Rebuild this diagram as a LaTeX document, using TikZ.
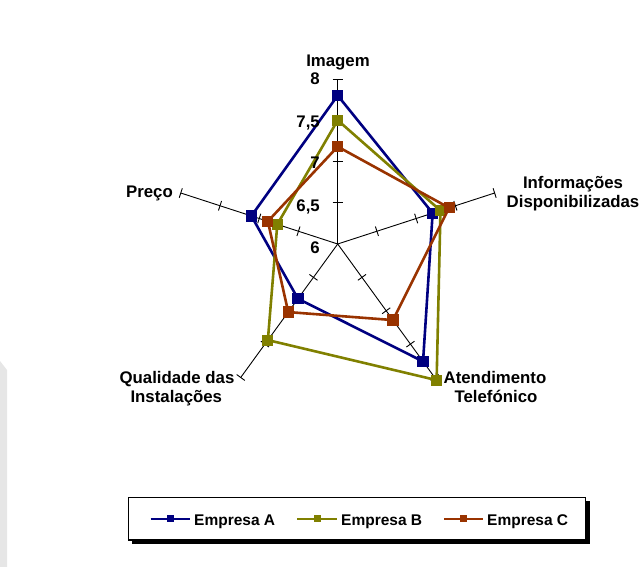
\documentclass[tikz,border=0pt]{standalone}
\usepackage{fontspec}
\setmainfont{Liberation Sans}
\usetikzlibrary{calc}
\definecolor{serA}{HTML}{000080}
\definecolor{serB}{HTML}{808000}
\definecolor{serC}{HTML}{993300}
\definecolor{stripgray}{HTML}{E6E6E6}
\begin{document}
\begin{tikzpicture}[x=1pt,y=1pt,
  lbl/.style={font=\fontsize{16.8}{19}\selectfont\bfseries, inner sep=0pt, anchor=base},
  num/.style={font=\fontsize{16.8}{19}\selectfont\bfseries, inner sep=0pt, anchor=base east},
  leg/.style={font=\fontsize{15.5}{18}\selectfont\bfseries, inner sep=0pt, anchor=base west},
  axisline/.style={line width=0.9pt, black},
  tickmark/.style={line width=0.9pt, black},
  series/.style={line width=2.6pt, line join=miter},
  legline/.style={line width=2.6pt}]
\useasboundingbox (0,0) rectangle (643,567);
% faint strip at the left edge
\fill[stripgray] (0,0) -- (0,206) -- (7,197) -- (7,0) -- cycle;
% centre and axes
\coordinate (O) at (337.7,323);
\foreach \a/\n in {90/I,18/N,-54/T,-126/Q,162/P}{
  \coordinate (\n) at ($(O)+(\a:165)$);
  \draw[axisline] (O) -- (\n);
  \foreach \r in {41.25,82.5,123.75,165}{
    \draw[tickmark] ($(O)+(\a:\r)+(\a+90:5)$) -- ($(O)+(\a:\r)+(\a-90:5)$);
  }
}
% data points (value -> radius (v-6)*82.5)
\coordinate (A1) at ($(O)+(90:{(7.80-6)*82.5})$);
\coordinate (A2) at ($(O)+(18:{(7.21-6)*82.5})$);
\coordinate (A3) at ($(O)+(-54:{(7.76-6)*82.5})$);
\coordinate (A4) at ($(O)+(-126:{(6.82-6)*82.5})$);
\coordinate (A5) at ($(O)+(162:{(7.10-6)*82.5})$);
\coordinate (B1) at ($(O)+(90:{(7.50-6)*82.5})$);
\coordinate (B2) at ($(O)+(18:{(7.31-6)*82.5})$);
\coordinate (B3) at ($(O)+(-54:{(8.04-6)*82.5})$);
\coordinate (B4) at ($(O)+(-126:{(7.44-6)*82.5})$);
\coordinate (B5) at ($(O)+(162:{(6.77-6)*82.5})$);
\coordinate (C1) at ($(O)+(90:{(7.18-6)*82.5})$);
\coordinate (C2) at ($(O)+(18:{(7.42-6)*82.5})$);
\coordinate (C3) at ($(O)+(-54:{(7.14-6)*82.5})$);
\coordinate (C4) at ($(O)+(-126:{(7.02-6)*82.5})$);
\coordinate (C5) at ($(O)+(162:{(6.89-6)*82.5})$);
% series
\foreach \s/\c in {A/serA,B/serB,C/serC}{
  \draw[series, \c] (\s1) -- (\s2) -- (\s3) -- (\s4) -- (\s5) -- cycle;
  \foreach \k in {1,...,5}{
    \fill[\c] ($(\s\k)+(-5.6,-5.6)$) rectangle ++(11.2,11.2);
  }
}
% axis value labels
\node[num] (v8) at (320,482) {8};
\node[num] (v75) at (320,439.7) {7,5};
\node[num] (v7) at (320,398.7) {7};
\node[num] (v65) at (320,355.3) {6,5};
\node[num] (v6) at (320,313.7) {6};
% category labels
\node[lbl] (tI) at (338,500.3) {Imagem};
\node[lbl] (tN1) at (573,378.7) {Informações};
\node[lbl] (tN2) at (573,359.3) {Disponibilizadas};
\node[lbl] (tT1) at (495,183.7) {Atendimento};
\node[lbl] (tT2) at (496,164.7) {Telefónico};
\node[lbl, anchor=base east] (tP) at (173,369.3) {Preço};
\node[lbl] (tQ1) at (177,183.7) {Qualidade das};
\node[lbl] (tQ2) at (176.3,164.7) {Instalações};
% legend
\fill[black] (132.3,23) rectangle (589.7,65.7);
\draw[fill=white, line width=1.2pt] (128.3,27) rectangle (585.7,69.7);
\draw[legline, serA] (150.7,48) -- (190,48);
\fill[serA] (166.5,44.5) rectangle ++(7,7);
\node[leg] (lA) at (194,41) {Empresa A};
\draw[legline, serB] (297,48) -- (337,48);
\fill[serB] (313.5,44.5) rectangle ++(7,7);
\node[leg] (lB) at (341,41) {Empresa B};
\draw[legline, serC] (444,48) -- (483,48);
\fill[serC] (460,44.5) rectangle ++(7,7);
\node[leg] (lC) at (487,41) {Empresa C};
\end{tikzpicture}
\end{document}
